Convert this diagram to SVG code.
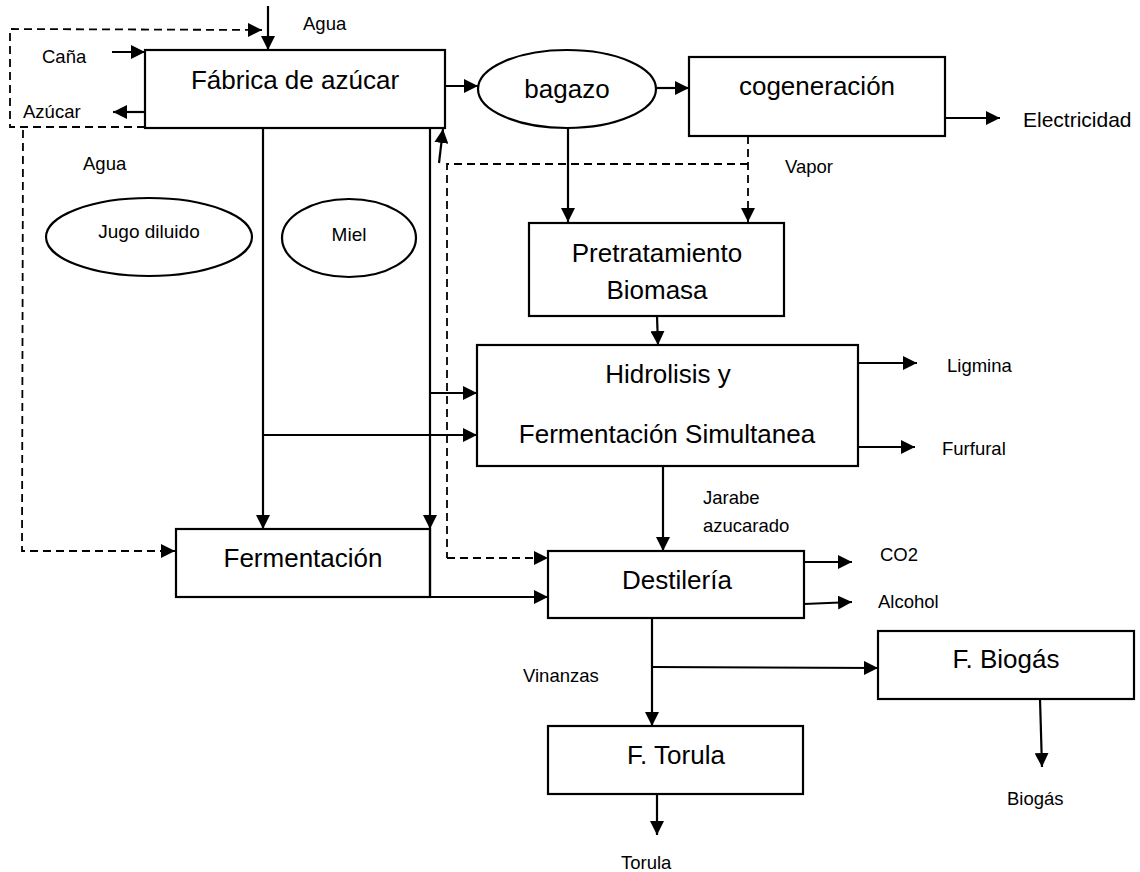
<svg xmlns="http://www.w3.org/2000/svg" width="1140" height="872" viewBox="0 0 1140 872">
  <style>
    .box { fill: #fff; stroke: #000; stroke-width: 2.2; }
    .oval { fill: #fff; stroke: #000; stroke-width: 2.2; }
    .big { font-family: "Liberation Sans", Arial, sans-serif; font-size: 26px; fill: #000; text-anchor: middle; }
    .mid { font-family: "Liberation Sans", Arial, sans-serif; font-size: 19px; fill: #000; text-anchor: middle; }
    .lbl { font-family: "Liberation Sans", Arial, sans-serif; font-size: 18.5px; fill: #000; }
    .flow { fill: none; stroke: #000; stroke-width: 2.2; }
    .dash { fill: none; stroke: #000; stroke-width: 1.8; stroke-dasharray: 8 5; }
    .arr { marker-end: url(#head); }
  </style>
  <defs>
    <marker id="head" markerUnits="userSpaceOnUse" markerWidth="14" markerHeight="14" refX="14" refY="7" orient="auto">
      <path d="M0,0 L14,7 L0,14 z" fill="#000"/>
    </marker>
  </defs>

  <rect width="1140" height="872" fill="#fff"/>

  <!-- process units -->
  <g id="fabrica">
    <rect class="box" x="145" y="50" width="300" height="78"/>
    <text class="big" x="295" y="89">Fábrica de azúcar</text>
  </g>
  <g id="bagazo">
    <ellipse class="oval" cx="567" cy="89" rx="89" ry="39"/>
    <text class="big" x="567" y="98">bagazo</text>
  </g>
  <g id="cogeneracion">
    <rect class="box" x="689" y="57" width="256" height="79"/>
    <text class="big" x="817" y="95">cogeneración</text>
  </g>
  <g id="jugo">
    <ellipse class="oval" cx="149" cy="237" rx="103" ry="39"/>
    <text class="mid" x="149" y="238">Jugo diluido</text>
  </g>
  <g id="miel">
    <ellipse class="oval" cx="349" cy="238" rx="67" ry="39"/>
    <text class="mid" x="349" y="241">Miel</text>
  </g>
  <g id="pretratamiento">
    <rect class="box" x="529" y="223" width="255" height="93"/>
    <text class="big" x="657" y="262">Pretratamiento</text>
    <text class="big" x="657" y="299">Biomasa</text>
  </g>
  <g id="hidrolisis">
    <rect class="box" x="477" y="345" width="381" height="121"/>
    <text class="big" x="668" y="383">Hidrolisis y</text>
    <text class="big" x="667" y="443">Fermentación Simultanea</text>
  </g>
  <g id="fermentacion">
    <rect class="box" x="176" y="529" width="254" height="68"/>
    <text class="big" x="303" y="567">Fermentación</text>
  </g>
  <g id="destileria">
    <rect class="box" x="548" y="551" width="256" height="67"/>
    <text class="big" x="677" y="589">Destilería</text>
  </g>
  <g id="torula">
    <rect class="box" x="548" y="726" width="255" height="68"/>
    <text class="big" x="676" y="764">F. Torula</text>
  </g>
  <g id="biogas">
    <rect class="box" x="878" y="631" width="256" height="68"/>
    <text class="big" x="1006" y="668">F. Biogás</text>
  </g>

  <!-- streams -->
  <g id="connectors">
    <!-- water, cane and sugar at the mill -->
    <path class="flow arr" d="M268,6 L268,50"/>
    <path class="flow arr" d="M112,52 L145,52"/>
    <path class="flow arr" d="M145,112 L113,112"/>
    <path class="dash arr" d="M145,127 L10,127 L10,29 L262,30"/>
    <path class="dash arr" d="M23,130 L22,551 L175,551"/>

    <!-- bagasse to cogeneration -->
    <path class="flow arr" d="M445,86 L478,86"/>
    <path class="flow arr" d="M657,88 L689,88"/>
    <path class="flow arr" d="M945,118 L1000,118"/>

    <!-- juice and molasses lines -->
    <path class="flow arr" d="M263,128 L263,529"/>
    <path class="flow arr" d="M430,128 L430,529"/>
    <path class="flow" d="M430,529 L430,597"/>
    <path class="flow arr" d="M430,597 L548,597"/>
    <path class="flow arr" d="M430,393 L477,393"/>
    <path class="flow arr" d="M263,435 L477,435"/>
    <path class="flow arr" d="M439,163 L443,129"/>

    <!-- steam -->
    <path class="dash arr" d="M748,136 L748,222"/>
    <path class="dash" d="M748,164 L447,164 L447,558"/>
    <path class="dash arr" d="M447,558 L548,558"/>

    <!-- biomass line -->
    <path class="flow arr" d="M568,128 L568,222"/>
    <path class="flow arr" d="M657,316 L658,345"/>
    <path class="flow arr" d="M858,363 L917,363"/>
    <path class="flow arr" d="M858,447 L915,447"/>
    <path class="flow arr" d="M663,466 L663,551"/>

    <!-- distillery outputs -->
    <path class="flow arr" d="M804,562 L852,562"/>
    <path class="flow arr" d="M804,604 L852,602"/>
    <path class="flow arr" d="M652,618 L652,726"/>
    <path class="flow arr" d="M652,667 L878,668"/>
    <path class="flow arr" d="M657,794 L657,835"/>
    <path class="flow arr" d="M1040,699 L1042,767"/>
  </g>

  <!-- stream labels -->
  <g id="labels">
    <text class="lbl" x="303" y="30">Agua</text>
    <text class="lbl" x="42" y="63">Caña</text>
    <text class="lbl" x="23" y="118">Azúcar</text>
    <text class="lbl" x="83" y="170">Agua</text>
    <text class="lbl" x="1023" y="127" style="font-size:21px">Electricidad</text>
    <text class="lbl" x="785" y="173">Vapor</text>
    <text class="lbl" x="947" y="372">Ligmina</text>
    <text class="lbl" x="942" y="455">Furfural</text>
    <text class="lbl" x="703" y="504">Jarabe</text>
    <text class="lbl" x="703" y="532">azucarado</text>
    <text class="lbl" x="880" y="561">CO2</text>
    <text class="lbl" x="878" y="608">Alcohol</text>
    <text class="lbl" x="523" y="682">Vinanzas</text>
    <text class="lbl" x="1007" y="805">Biogás</text>
    <text class="lbl" x="621" y="869">Torula</text>
  </g>
</svg>
